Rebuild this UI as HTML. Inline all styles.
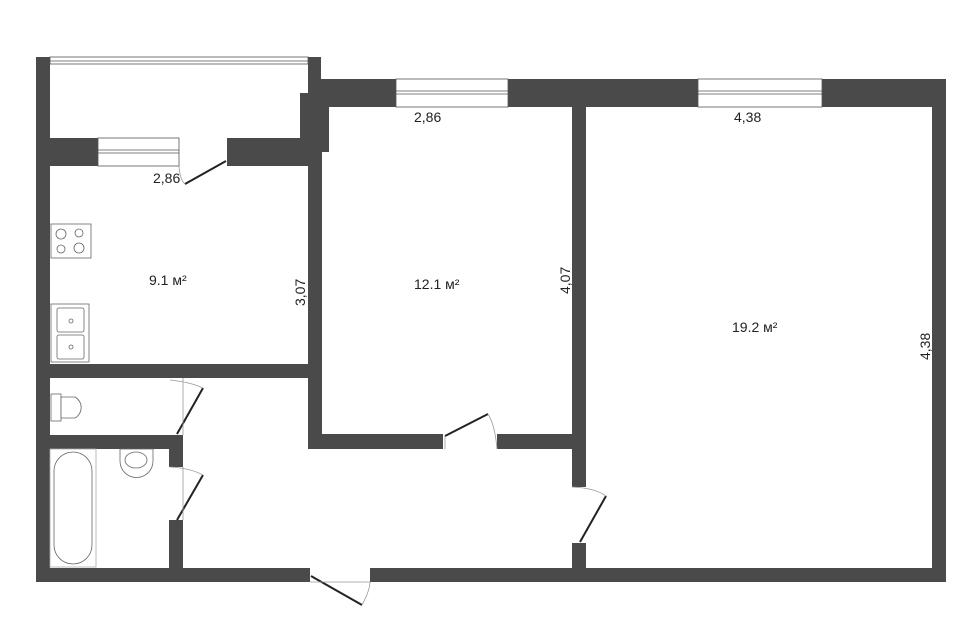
<!DOCTYPE html>
<html><head><meta charset="utf-8"><style>
html,body{margin:0;padding:0;background:#fff;width:960px;height:640px;overflow:hidden}
svg{display:block}
text{font-family:"Liberation Sans",sans-serif;fill:#222}
</style></head><body>
<svg width="960" height="640" viewBox="0 0 960 640">
<g fill="#4a4a4a">
<!-- outer left -->
<rect x="36" y="57" width="14" height="525"/>
<!-- balcony right wall -->
<rect x="308" y="57" width="13" height="95"/>
<rect x="300" y="93" width="29" height="59"/>
<!-- top wall middle+right -->
<rect x="321" y="79" width="625" height="28"/>
<!-- right outer -->
<rect x="932" y="79" width="14" height="503"/>
<!-- kitchen top wall -->
<rect x="36" y="138" width="62" height="28"/>
<rect x="227" y="138" width="94" height="28"/>
<!-- kitchen/middle left wall -->
<rect x="308" y="138" width="14" height="311"/>
<!-- kitchen bottom -->
<rect x="36" y="364" width="286" height="14"/>
<!-- toilet/bath wall -->
<rect x="36" y="435" width="147" height="14"/>
<rect x="169" y="435" width="14" height="32"/>
<rect x="169" y="520" width="14" height="62"/>
<!-- middle room bottom wall -->
<rect x="308" y="434" width="135" height="15"/>
<rect x="497" y="434" width="89" height="15"/>
<!-- middle/right wall -->
<rect x="572" y="79" width="14" height="408"/>
<rect x="572" y="543" width="14" height="39"/>
<!-- bottom wall -->
<rect x="36" y="568" width="274" height="14"/>
<rect x="370" y="568" width="576" height="14"/>
</g>
<!-- windows -->
<g fill="#fff" stroke="#555" stroke-width="0.8">
<rect x="50" y="57" width="258" height="7"/>
<line x1="50" y1="61" x2="308" y2="61"/>
<rect x="98" y="138" width="81" height="28"/>
<line x1="98" y1="150" x2="179" y2="150"/><line x1="98" y1="153" x2="179" y2="153"/>
<rect x="396" y="79" width="112" height="28"/>
<line x1="396" y1="91" x2="508" y2="91"/><line x1="396" y1="94" x2="508" y2="94"/>
<rect x="698" y="79" width="124" height="28"/>
<line x1="698" y1="91" x2="822" y2="91"/><line x1="698" y1="94" x2="822" y2="94"/>
</g>
<!-- doors -->
<g fill="none" stroke="#222" stroke-width="2">
<line x1="185" y1="184" x2="226" y2="161"/>
<line x1="177" y1="434" x2="203" y2="388"/>
<line x1="177" y1="520" x2="203" y2="475"/>
<line x1="445" y1="436" x2="488" y2="414"/>
<line x1="580" y1="542" x2="606" y2="496"/>
<line x1="311" y1="576" x2="362" y2="605"/>
</g>
<g fill="none" stroke="#999" stroke-width="0.8">
<path d="M179 166 Q180 180 185 184"/>
<path d="M170 380 Q190 382 203 388"/>
<path d="M170 467 Q190 468 203 475"/>
<path d="M445 449 L445 436 M488 414 Q495 425 497 449"/>
<path d="M572 487 Q595 488 606 496"/>
<path d="M362 605 Q370 590 370 582"/>
<line x1="183" y1="378" x2="183" y2="435"/>
<line x1="183" y1="467" x2="183" y2="520"/>
<line x1="310" y1="582" x2="370" y2="582"/>
</g>
<!-- fixtures -->
<g fill="#fff" stroke="#666" stroke-width="0.8">
<rect x="51" y="224" width="40" height="34"/>
<circle cx="61" cy="234" r="5"/><circle cx="79" cy="233" r="4"/>
<circle cx="61" cy="249" r="4"/><circle cx="79" cy="248" r="5"/>
<rect x="51" y="304" width="38" height="58"/>
<rect x="57" y="308" width="27" height="24" rx="2"/>
<rect x="57" y="335" width="27" height="24" rx="2"/>
<circle cx="71" cy="321" r="2"/><circle cx="71" cy="347" r="2"/>
<rect x="51" y="394" width="10" height="27"/>
<path d="M61 397 L75 397 A12 12 0 0 1 75 418 L61 418 Z"/>
<rect x="50" y="449" width="46" height="118" stroke="#aaa"/>
<rect x="54" y="452" width="38" height="112" rx="19"/>
<path d="M120 449 L153 449 L153 461 A16 16 0 0 1 120 461 Z"/>
<ellipse cx="136" cy="460" rx="11" ry="8"/>
</g>
<!-- labels -->
<g font-size="14">
<text x="153" y="183">2,86</text>
<text x="149" y="285">9.1 м²</text>
<text x="414" y="122">2,86</text>
<text x="414" y="289">12.1 м²</text>
<text x="734" y="122">4,38</text>
<text x="732" y="332">19.2 м²</text>
<text transform="translate(305,306) rotate(-90)">3,07</text>
<text transform="translate(570,294) rotate(-90)">4,07</text>
<text transform="translate(930,360) rotate(-90)">4,38</text>
</g>
</svg>
</body></html>
